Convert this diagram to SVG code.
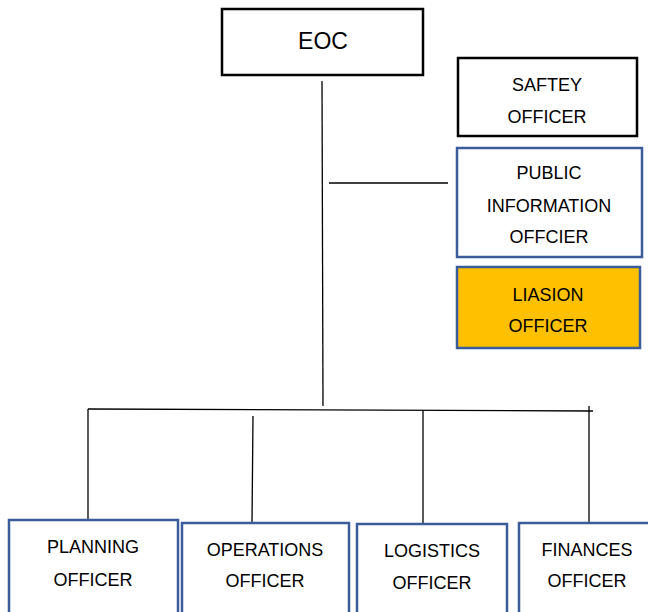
<svg xmlns="http://www.w3.org/2000/svg" width="648" height="612" viewBox="0 0 648 612">
<style>
.blk{fill:#fff;stroke:#000;stroke-width:2.5}
.blu{fill:#fff;stroke:#3A5C9B;stroke-width:2.5}
.org{fill:#FFC000;stroke:#3A5C9B;stroke-width:2.5}
text{font-family:"Liberation Sans",Arial,sans-serif;font-size:18px;fill:#000;text-anchor:middle}
.ln{stroke:#000;stroke-width:1.3;fill:none}
</style>
<rect width="648" height="612" fill="#fff"/>
<g id="connectors">
<line class="ln" x1="322" y1="81" x2="323" y2="406"/>
<line class="ln" x1="329" y1="183" x2="448" y2="183"/>
<line class="ln" x1="88" y1="409" x2="593" y2="411"/>
<line class="ln" x1="88" y1="409" x2="88" y2="519"/>
<line class="ln" x1="253" y1="416" x2="252" y2="522"/>
<line class="ln" x1="423" y1="410" x2="423" y2="523"/>
<line class="ln" x1="589" y1="406" x2="589" y2="522"/>
</g>
<g id="eoc">
<rect class="blk" x="222" y="9" width="201" height="66"/>
<text x="323" y="49" style="font-size:23px">EOC</text>
</g>
<g id="safety">
<rect class="blk" x="458" y="58" width="179" height="78"/>
<text x="547" y="91">SAFTEY</text>
<text x="547" y="123">OFFICER</text>
</g>
<g id="public">
<rect class="blu" x="457" y="148" width="185" height="109"/>
<text x="549" y="179">PUBLIC</text>
<text x="549" y="212">INFORMATION</text>
<text x="549" y="243">OFFCIER</text>
</g>
<g id="liaison">
<rect class="org" x="457" y="267" width="183" height="81"/>
<text x="548" y="301">LIASION</text>
<text x="548" y="332">OFFICER</text>
</g>
<g id="planning">
<rect class="blu" x="9" y="520" width="169" height="100"/>
<text x="93" y="553">PLANNING</text>
<text x="93" y="586">OFFICER</text>
</g>
<g id="operations">
<rect class="blu" x="182" y="523" width="167" height="100"/>
<text x="265" y="556">OPERATIONS</text>
<text x="265" y="587">OFFICER</text>
</g>
<g id="logistics">
<rect class="blu" x="357" y="524" width="150" height="100"/>
<text x="432" y="557">LOGISTICS</text>
<text x="432" y="589">OFFICER</text>
</g>
<g id="finances">
<rect class="blu" x="519" y="523" width="140" height="100"/>
<text x="587" y="556">FINANCES</text>
<text x="587" y="587">OFFICER</text>
</g>
</svg>
